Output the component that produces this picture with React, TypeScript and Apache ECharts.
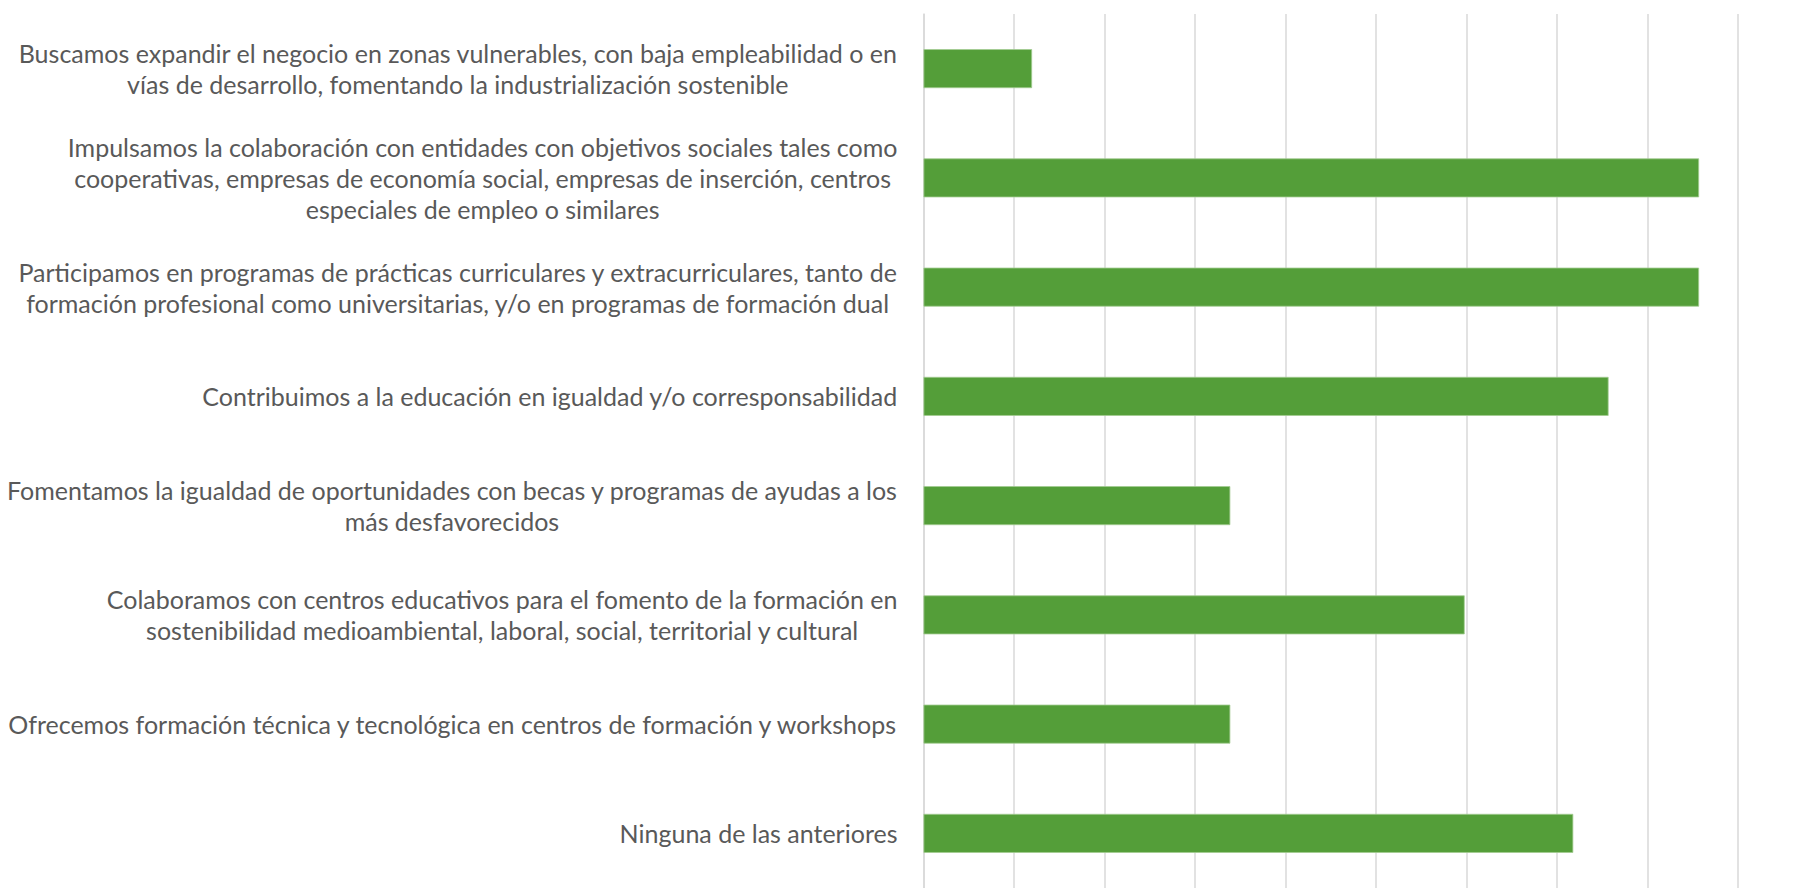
import React, { useEffect, useRef } from "react";
import * as echarts from "echarts";

const categories: string[] = [
  "Buscamos expandir el negocio en zonas vulnerables, con baja empleabilidad o en\nvías de desarrollo, fomentando la industrialización sostenible",
  "Impulsamos la colaboración con entidades con objetivos sociales tales como\ncooperativas, empresas de economía social, empresas de inserción, centros\nespeciales de empleo o similares",
  "Participamos en programas de prácticas curriculares y extracurriculares, tanto de\nformación profesional como universitarias, y/o en programas de formación dual",
  "Contribuimos a la educación en igualdad y/o corresponsabilidad",
  "Fomentamos la igualdad de oportunidades con becas y programas de ayudas a los\nmás desfavorecidos",
  "Colaboramos con centros educativos para el fomento de la formación en\nsostenibilidad medioambiental, laboral, social, territorial y cultural",
  "Ofrecemos formación técnica y tecnológica en centros de formación y workshops",
  "Ninguna de las anteriores",
];

const values: number[] = [1.2, 8.57, 8.57, 7.57, 3.39, 5.98, 3.39, 7.18];

const axisMin = 0;
const axisMax = 9;
const axisInterval = 1;

const FONT_FAMILY = "Lato";
const FONT_SIZE = 25;
const LINE_HEIGHT = 31;
const LABEL_GAP = 26;

export default function App() {
  const ref = useRef<HTMLDivElement>(null);

  useEffect(() => {
    document.body.style.margin = "0";
    if (!ref.current) return;
    const chart = echarts.init(ref.current, null, { renderer: "svg" });
    chart.setOption({
      animation: false,
      backgroundColor: "#ffffff",
      grid: { left: 923.5, right: 75, top: 14, height: 879, containLabel: false },
      xAxis: {
        type: "value",
        min: axisMin,
        max: axisMax,
        interval: axisInterval,
        axisLabel: { show: false },
        axisTick: { show: false },
        axisLine: { show: false },
        splitLine: { show: true, lineStyle: { color: "#d9d9d9", width: 1.5 } },
      },
      yAxis: {
        type: "category",
        inverse: true,
        data: categories,
        axisLabel: { show: false },
        axisTick: { show: false },
        axisLine: { show: true, lineStyle: { color: "#d9d9d9", width: 1.5 } },
      },
      series: [
        {
          type: "bar",
          data: values,
          barWidth: 39,
          itemStyle: { color: "#549e39", borderColor: "#a3cc92", borderWidth: 0.8 },
        },
      ],
    });

    const canvas = document.createElement("canvas");
    const ctx = canvas.getContext("2d")!;
    ctx.font = `${FONT_SIZE}px ${FONT_FAMILY}`;
    const axisX = chart.convertToPixel({ xAxisIndex: 0 }, axisMin) as number;
    const graphics = categories.map((c) => {
      const lines = c.split("\n");
      const maxW = Math.max(...lines.map((l) => ctx.measureText(l).width));
      const y = chart.convertToPixel({ yAxisIndex: 0 }, c) as number;
      return {
        type: "text",
        x: axisX - LABEL_GAP - maxW / 2,
        y,
        style: {
          text: c,
          fontFamily: FONT_FAMILY,
          fontSize: FONT_SIZE,
          lineHeight: LINE_HEIGHT,
          fill: "#595959",
          align: "center",
          verticalAlign: "middle",
        },
      };
    });
    chart.setOption({ graphic: graphics });

    return () => chart.dispose();
  }, []);

  return <div ref={ref} style={{ width: 1813, height: 888 }} />;
}
